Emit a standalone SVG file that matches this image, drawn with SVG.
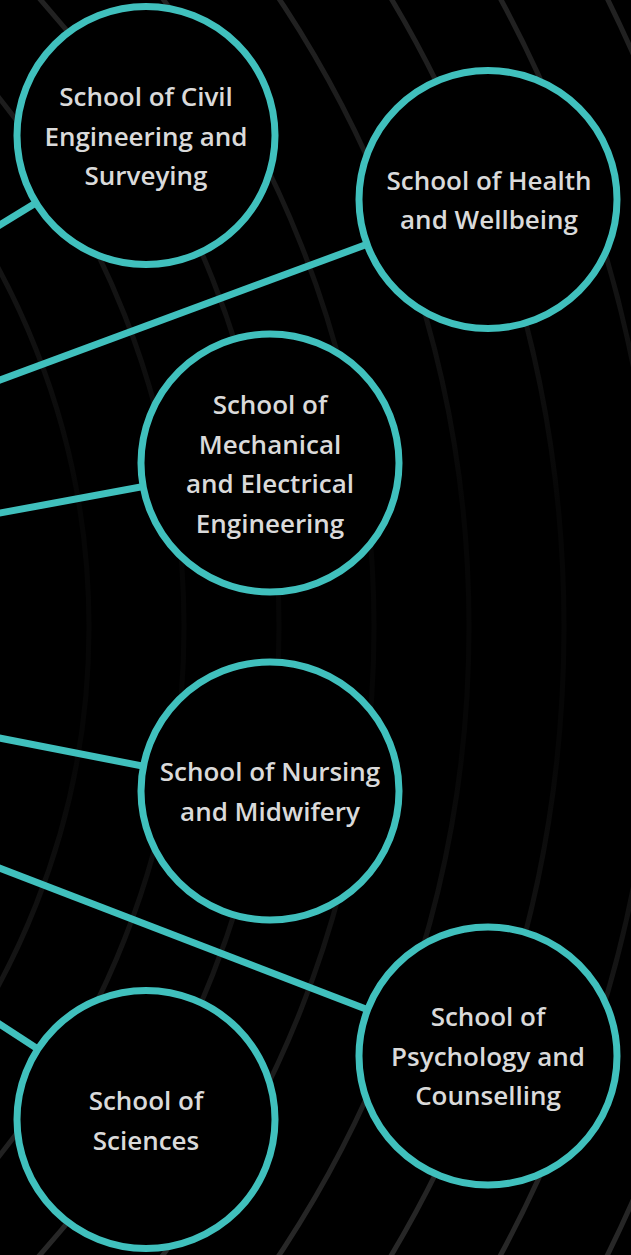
<svg xmlns="http://www.w3.org/2000/svg" width="631" height="1255" viewBox="0 0 631 1255">
  <defs>
    <linearGradient id="arcFade" gradientUnits="userSpaceOnUse" x1="0" y1="0" x2="0" y2="1255">
      <stop offset="0" stop-color="#222222"/>
      <stop offset="0.25" stop-color="#121212"/>
      <stop offset="0.4" stop-color="#060606"/>
      <stop offset="0.6" stop-color="#060606"/>
      <stop offset="0.75" stop-color="#131313"/>
      <stop offset="1" stop-color="#282828"/>
    </linearGradient>
  </defs>
  <style>
    .arc { fill: none; stroke: url(#arcFade); stroke-width: 5; }
    .link { stroke: #40c0bd; stroke-width: 7; fill: none; }
    .node circle { fill: #000000; stroke: #40c0bd; stroke-width: 7; }
    .node text { fill: #dadada; font-family: "Open Sans", "Noto Sans", "Liberation Sans", sans-serif; font-weight: 600; font-size: 26px; text-anchor: middle; }
  </style>
  <rect x="0" y="0" width="631" height="1255" fill="#000000"/>
  <g id="background-arcs">
    <circle class="arc" cx="-665" cy="627" r="754"/>
    <circle class="arc" cx="-665" cy="627" r="849"/>
    <circle class="arc" cx="-665" cy="627" r="944"/>
    <circle class="arc" cx="-665" cy="627" r="1039"/>
    <circle class="arc" cx="-665" cy="627" r="1134"/>
    <circle class="arc" cx="-665" cy="627" r="1229"/>
    <circle class="arc" cx="-665" cy="627" r="1324"/>
    <circle class="arc" cx="-665" cy="627" r="1419"/>
  </g>
  <g id="connectors">
    <line class="link" x1="-10" y1="231" x2="146" y2="135.5"/>
    <line class="link" x1="-10" y1="383.7" x2="488" y2="199.5"/>
    <line class="link" x1="-10" y1="514.9" x2="270" y2="463"/>
    <line class="link" x1="-10" y1="736.2" x2="270" y2="791"/>
    <line class="link" x1="-10" y1="864.5" x2="488" y2="1056"/>
    <line class="link" x1="-10" y1="1017.8" x2="146" y2="1119.5"/>
  </g>
  <g id="node-civil" class="node">
    <circle cx="146" cy="135.5" r="129"/>
    <text x="146" y="106">School of Civil</text>
    <text x="146" y="145.5">Engineering and</text>
    <text x="146" y="185">Surveying</text>
  </g>
  <g id="node-health" class="node">
    <circle cx="488" cy="199.5" r="129"/>
    <text x="489" y="189.5">School of Health</text>
    <text x="489" y="229">and Wellbeing</text>
  </g>
  <g id="node-mechanical" class="node">
    <circle cx="270" cy="463" r="129"/>
    <text x="270" y="414">School of</text>
    <text x="270" y="453.5">Mechanical</text>
    <text x="270" y="493">and Electrical</text>
    <text x="270" y="532.5">Engineering</text>
  </g>
  <g id="node-nursing" class="node">
    <circle cx="270" cy="791" r="129"/>
    <text x="270" y="781">School of Nursing</text>
    <text x="270" y="820.5">and Midwifery</text>
  </g>
  <g id="node-psychology" class="node">
    <circle cx="488" cy="1056" r="129"/>
    <text x="488" y="1026">School of</text>
    <text x="488" y="1065.5">Psychology and</text>
    <text x="488" y="1105">Counselling</text>
  </g>
  <g id="node-sciences" class="node">
    <circle cx="146" cy="1119.5" r="129"/>
    <text x="146" y="1110">School of</text>
    <text x="146" y="1149.5">Sciences</text>
  </g>
</svg>
